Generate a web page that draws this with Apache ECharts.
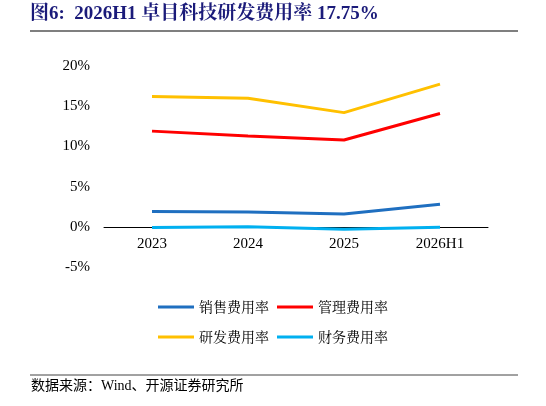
<!DOCTYPE html>
<html><head><meta charset="utf-8">
<script src="https://cdn.jsdelivr.net/npm/echarts@6/dist/echarts.min.js"></script>
<style>html,body{margin:0;padding:0;background:#fff}#c{width:546px;height:406px}</style>
</head><body><div id="c"></div>
<script>
const categories = ['2023','2024','2025','2026H1'];
const sales = [1.9, 1.85, 1.6, 2.8];
const admin = [11.9, 11.3, 10.8, 14.1];
const rnd = [16.2, 16.0, 14.2, 17.75];
const fin = [-0.1, 0.0, -0.3, -0.05];
const names = ['销售费用率','管理费用率','研发费用率','财务费用率'];
const colors = ['#1f6fc0','#ff0000','#ffc000','#00b0f0'];
const font = '"Times New Roman","Liberation Serif","Noto Sans CJK SC",serif';
const chart = echarts.init(document.getElementById('c'));
const legendBase = {itemWidth:36,itemHeight:3,itemGap:8,icon:'rect',textStyle:{fontFamily:'"Noto Serif CJK SC","Noto Sans CJK SC",serif',fontSize:14,color:'#000'}};
chart.setOption({
  animation:false,
  graphic:[
    {type:'text',left:30,top:5,style:{text:'图6:  2026H1 卓目科技研发费用率 17.75%',font:'bold 19px "Times New Roman","Liberation Serif","Noto Serif CJK SC","Noto Sans CJK SC",serif',fill:'#1b1b7a'}},
    {type:'line',shape:{x1:30,y1:31,x2:518,y2:31},style:{stroke:'#000',lineWidth:1.2}},
    {type:'line',shape:{x1:30,y1:375,x2:518,y2:375},style:{stroke:'#444',lineWidth:1}},
    {type:'text',left:31,top:379,style:{text:'数据来源：Wind、开源证券研究所',font:'14px "Times New Roman","Liberation Serif","Noto Sans CJK SC",serif',fill:'#000'}}
  ],
  legend:[
    Object.assign({},legendBase,{data:names.slice(0,2),left:'center',top:295}),
    Object.assign({},legendBase,{data:names.slice(2),left:'center',top:325})
  ],
  grid:{left:104,right:58,top:66,bottom:139},
  xAxis:{type:'category',data:categories,boundaryGap:true,
    axisLine:{onZero:true,lineStyle:{color:'#000'}},axisTick:{show:false},
    axisLabel:{fontFamily:font,fontSize:15,color:'#000',margin:-30}},
  yAxis:{type:'value',min:-5,max:20,interval:5,
    axisLine:{show:false},axisTick:{show:false},splitLine:{show:false},
    axisLabel:{formatter:'{value}%',fontFamily:font,fontSize:15,color:'#000',margin:14}},
  series:[sales,admin,rnd,fin].map((d,i)=>({name:names[i],type:'line',data:d,symbol:'none',
    lineStyle:{color:colors[i],width:3},itemStyle:{color:colors[i]}}))
});
</script></body></html>
